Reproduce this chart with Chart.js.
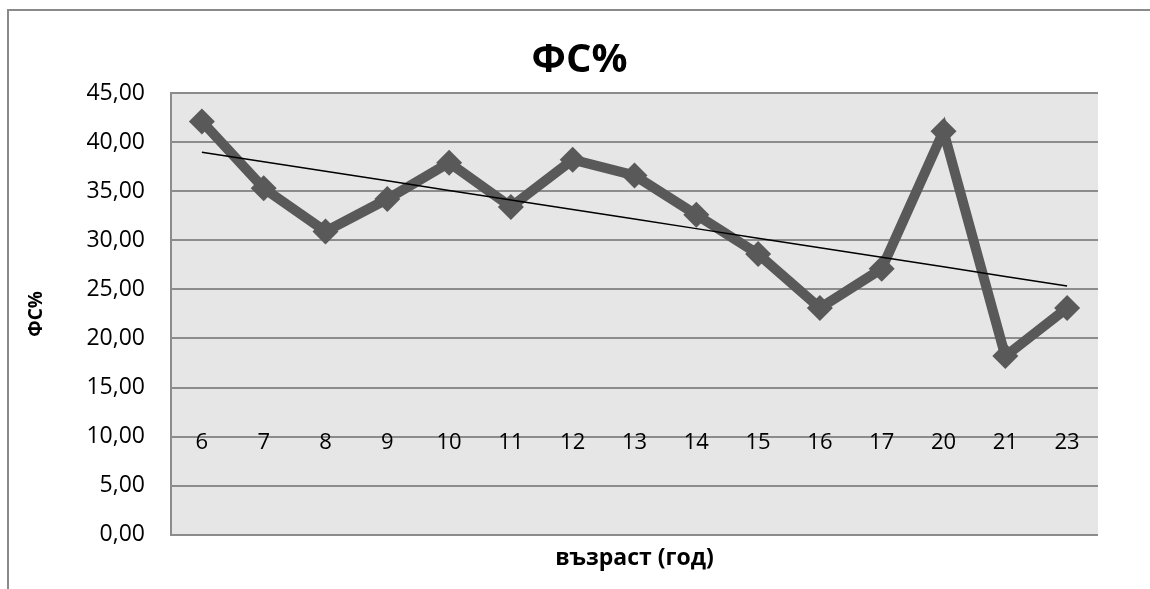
<!DOCTYPE html>
<html>
<head>
<meta charset="utf-8">
<script src="https://cdn.jsdelivr.net/npm/chart.js@4/dist/chart.umd.min.js"></script>
<style>
  html, body { margin: 0; padding: 0; overflow: hidden; background: #ffffff; width: 1150px; height: 589px; }
  #frame { position: absolute; left: 7px; top: 9px; width: 1141px; height: 578px; border: 2px solid #8a8a8a; }
  canvas { display: block; }
</style>
</head>
<body>
<div id="frame"><canvas id="chart" width="1141" height="578"></canvas></div>
<script>
// Age groups (years) and the ФС% value for each group
const ages = ['6', '7', '8', '9', '10', '11', '12', '13', '14', '15', '16', '17', '20', '21', '23'];
const fsPercent = [42.1, 35.3, 30.9, 34.2, 37.9, 33.4, 38.2, 36.6, 32.6, 28.6, 23.1, 27.1, 41.1, 18.2, 23.1];

// Value axis range
const yMin = 0;
const yMax = 45;
const yStep = 5;

// Linear least-squares trend over the category index
function linearTrend(values) {
  const n = values.length;
  let sx = 0, sy = 0, sxx = 0, sxy = 0;
  values.forEach((v, i) => {
    const x = i + 1;
    sx += x; sy += v; sxx += x * x; sxy += x * v;
  });
  const slope = (n * sxy - sx * sy) / (n * sxx - sx * sx);
  const intercept = (sy - slope * sx) / n;
  return values.map((_, i) => intercept + slope * (i + 1));
}
const trend = linearTrend(fsPercent);

const FONT = "'Open Sans', 'Noto Sans', sans-serif";
const GRID = '#8c8c8c';

// Light grey fill behind the plotting area
const plotBackground = {
  id: 'plotBackground',
  beforeDraw(chart) {
    const { ctx, chartArea: a } = chart;
    ctx.save();
    ctx.fillStyle = '#e6e6e6';
    ctx.fillRect(a.left, a.top, a.right - a.left, a.bottom - a.top);
    ctx.restore();
  }
};

new Chart(document.getElementById('chart'), {
  type: 'line',
  data: {
    labels: ages,
    datasets: [
      {
        label: 'Линеен тренд',
        data: trend,
        borderColor: '#000000',
        borderWidth: 1.5,
        pointRadius: 0,
        fill: false,
        tension: 0,
        order: 0
      },
      {
        label: 'ФС%',
        data: fsPercent,
        borderColor: '#595959',
        backgroundColor: '#595959',
        borderWidth: 10,
        pointStyle: 'rectRot',
        pointRadius: 13,
        pointBorderWidth: 0,
        pointBackgroundColor: '#595959',
        fill: false,
        tension: 0,
        order: 1
      }
    ]
  },
  options: {
    responsive: false,
    animation: false,
    layout: { padding: 0 },
    plugins: {
      legend: { display: false },
      tooltip: { enabled: false },
      title: {
        display: true,
        text: 'ФС%',
        color: '#000000',
        font: { family: FONT, size: 40, weight: 'bold', lineHeight: 1.2 },
        padding: { top: 26, bottom: 8 }
      }
    },
    scales: {
      y: {
        position: 'left',
        min: yMin,
        max: yMax,
        ticks: {
          stepSize: yStep,
          color: '#000000',
          font: { family: FONT, size: 23 },
          padding: 26,
          callback: (v) => Number(v).toFixed(2).replace('.', ',')
        },
        grid: { color: GRID, lineWidth: 2, drawTicks: false },
        border: { display: true, color: GRID, width: 2 },
        title: {
          display: true,
          text: 'ФС%',
          color: '#000000',
          font: { family: FONT, size: 19, weight: 'bold', lineHeight: 1.2 },
          padding: { top: 16, bottom: 0 }
        },
        afterFit(scale) { scale.width = 162; }
      },
      yRight: {
        position: 'right',
        min: yMin,
        max: yMax,
        ticks: { display: false },
        grid: { display: false },
        border: { display: false },
        afterFit(scale) { scale.width = 52; }
      },
      x: {
        type: 'category',
        position: { y: 10 },
        offset: true,
        grid: { display: false },
        border: { display: false },
        ticks: {
          color: '#000000',
          font: { family: FONT, size: 22 },
          padding: -15,
          maxRotation: 0,
          autoSkip: false
        },
        afterFit(scale) { scale.height = 0; }
      },
      xTitle: {
        type: 'category',
        position: 'bottom',
        offset: true,
        grid: { display: false },
        border: { display: false },
        ticks: { display: false },
        title: {
          display: true,
          text: 'възраст (год)',
          color: '#000000',
          font: { family: FONT, size: 23, weight: 'bold', lineHeight: 1.2 },
          padding: { top: 1.8, bottom: 16.8 }
        }
      }
    }
  },
  plugins: [plotBackground]
});
</script>
</body>
</html>
